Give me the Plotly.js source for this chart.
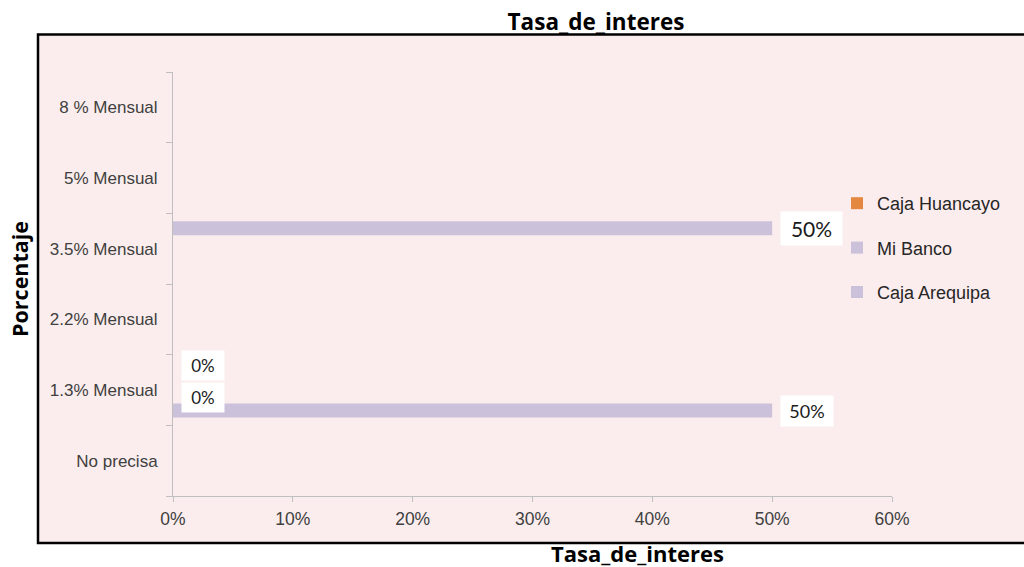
<!DOCTYPE html>
<html>
<head>
<meta charset="utf-8">
<script src="https://cdn.plot.ly/plotly-3.0.1.min.js"></script>
<style>html,body{margin:0;padding:0;background:#fff;}#chart{width:1024px;height:567px;}</style>
</head>
<body>
<div id="chart"></div>
<script>
// ---- data ----
const categories = ['No precisa', '1.3% Mensual', '2.2% Mensual', '3.5% Mensual', '5% Mensual', '8 % Mensual'];
const cajaHuancayo = [null, 0, null, null, null, null];
const miBanco = [null, 0, null, 0.5, null, null];
const cajaArequipa = [null, 0.5, null, null, null, null];
const xTickValues = [0, 0.1, 0.2, 0.3, 0.4, 0.5, 0.6];
const chartTitle = 'Tasa_de_interes';
const xTitle = 'Tasa_de_interes';
const yTitle = 'Porcentaje';

// ---- layout constants ----
const W = 1024, H = 567;
const M = {l: 173, r: 132, t: 72, b: 71};
const PW = W - M.l - M.r, PH = H - M.t - M.b;
const BARGAP = 0.13, BARGROUPGAP = 0.32;
const px2x = p => (p - M.l) / PW;
const px2y = p => (H - M.b - p) / PH;

// slot order bottom -> top
const series = [
  {name: 'Caja Arequipa', values: cajaArequipa, color: '#CBC1DB', rank: 3},
  {name: 'Caja Huancayo', values: cajaHuancayo, color: '#E5883F', rank: 1},
  {name: 'Mi Banco', values: miBanco, color: '#CBC1DB', rank: 2}
];

const labelStyle = {
  'Mi Banco|3.5% Mensual': {size: 21, nudge: 0, width: 53},
  'Mi Banco|1.3% Mensual': {size: 17, nudge: 4, width: 34},
  'Caja Huancayo|1.3% Mensual': {size: 17, nudge: -7, width: 34},
  'Caja Arequipa|1.3% Mensual': {size: 18, nudge: -1, width: 44}
};

const traces = series.map(s => ({
  type: 'bar', orientation: 'h', name: s.name,
  x: s.values, y: categories,
  marker: {color: s.color},
  legendgroup: s.name, legendrank: s.rank,
  hoverinfo: 'x+name'
}));

const bandPx = PH / categories.length;
const slotPx = (1 - BARGAP) / series.length * bandPx;
const annotations = [];
series.forEach((s, i) => {
  s.values.forEach((v, j) => {
    if (v === null) return;
    const st = labelStyle[s.name + '|' + categories[j]] || {size: 17, nudge: 0, width: null};
    annotations.push({
      xref: 'x', yref: 'y', x: v, y: categories[j],
      text: Math.round(v * 100) + '%', showarrow: false,
      xanchor: 'left', yanchor: 'middle', xshift: 8,
      yshift: (i - (series.length - 1) / 2) * slotPx + st.nudge,
      bgcolor: '#FFFFFF', borderpad: 4, width: st.width,
      font: {family: 'Lato, sans-serif', size: st.size, color: '#1A1A1A'}
    });
  });
});

annotations.push({
  xref: 'paper', yref: 'paper', x: px2x(637), y: px2y(553),
  xanchor: 'center', yanchor: 'middle', showarrow: false, text: xTitle,
  font: {family: 'Open Sans, sans-serif', size: 22, color: '#000', weight: 700}
});
annotations.push({
  xref: 'paper', yref: 'paper', x: px2x(19), y: px2y(279),
  xanchor: 'center', yanchor: 'middle', showarrow: false, text: yTitle, textangle: -90,
  font: {family: 'Open Sans, sans-serif', size: 21.5, color: '#000', weight: 700}
});

const layout = {
  width: W, height: H,
  margin: M,
  paper_bgcolor: '#FFFFFF', plot_bgcolor: 'rgba(0,0,0,0)',
  barmode: 'group', bargap: BARGAP, bargroupgap: BARGROUPGAP,
  title: {
    text: chartTitle, xref: 'container', yref: 'container',
    x: 596 / W, y: 1 - 22.5 / H, xanchor: 'center', yanchor: 'middle',
    font: {family: 'Open Sans, sans-serif', size: 22.5, color: '#000', weight: 700}
  },
  xaxis: {
    range: [0, 0.6], tickvals: xTickValues, tickformat: '.0%',
    showgrid: false, zeroline: false, showline: true, linecolor: '#BFBFBF', linewidth: 1,
    ticks: 'outside', ticklen: 5, tickcolor: '#BFBFBF', ticklabelstandoff: 2,
    tickfont: {family: 'Liberation Sans, Arial, sans-serif', size: 17.5, color: '#404040'},
    fixedrange: true
  },
  yaxis: {
    type: 'category', categoryorder: 'array', categoryarray: categories,
    showgrid: false, zeroline: false, showline: true, linecolor: '#BFBFBF', linewidth: 1,
    ticks: 'outside', ticklen: 6, tickcolor: '#BFBFBF', tickson: 'boundaries', ticklabelstandoff: 11,
    tickfont: {family: 'Liberation Sans, Arial, sans-serif', size: 17, color: '#404040'},
    fixedrange: true
  },
  legend: {
    x: px2x(837), xanchor: 'left', y: px2y(185), yanchor: 'top',
    traceorder: 'grouped', tracegroupgap: 18,
    bgcolor: 'rgba(0,0,0,0)',
    font: {family: 'Liberation Sans, Arial, sans-serif', size: 18, color: '#262626'}
  },
  shapes: [{
    type: 'rect', xref: 'paper', yref: 'paper', layer: 'below',
    x0: px2x(38), x1: px2x(1040), y0: px2y(543), y1: px2y(34.5),
    fillcolor: '#FBEDED', line: {color: '#000000', width: 2.5}
  }],
  annotations: annotations,
  showlegend: true
};

Plotly.newPlot('chart', traces, layout, {displayModeBar: false, responsive: false});
</script>
</body>
</html>
